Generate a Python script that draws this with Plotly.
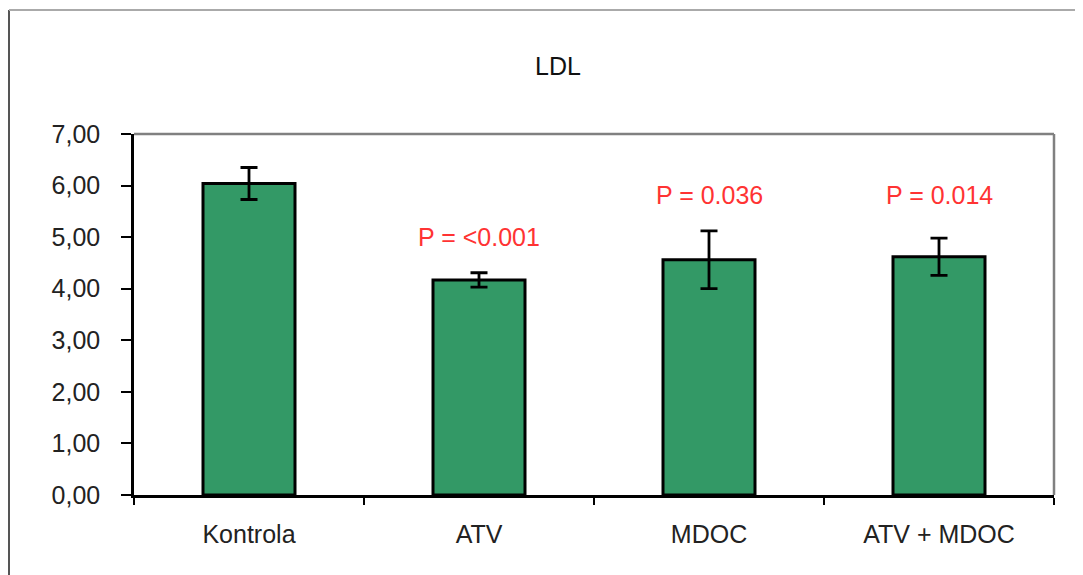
import plotly.graph_objects as go

categories = ["Kontrola", "ATV", "MDOC", "ATV + MDOC"]
ldl_mean = [6.04, 4.17, 4.56, 4.62]
ldl_err = [0.31, 0.14, 0.56, 0.36]
p_labels = ["", "P = <0.001", "P = 0.036", "P = 0.014"]
p_label_y = [None, 5.0, 5.82, 5.81]
y_tick_vals = [0, 1, 2, 3, 4, 5, 6, 7]

OFF = 8  # page body margin
W, H = 1083 - OFF, 575 - OFF
L, R, T, B = 134 - OFF, 29, 134 - OFF, 80
pw, ph = W - L - R, H - T - B

FONT = "Liberation Sans, Arial, sans-serif"
FS = 25

fig = go.Figure()
fig.add_trace(go.Bar(
    x=categories, y=ldl_mean, width=0.4,
    marker=dict(color="#339966", line=dict(color="#000000", width=3)),
    error_y=dict(type="data", array=ldl_err, visible=True,
                 color="#000000", thickness=2.8, width=8.5),
    showlegend=False,
))

for c, txt, yv in zip(categories, p_labels, p_label_y):
    if txt:
        fig.add_annotation(x=c, y=yv, xref="x", yref="y", text=txt,
                           showarrow=False,
                           font=dict(family=FONT, size=FS, color="#ff3333"))

# title
fig.add_annotation(x=(558 - 134) / pw, y=1 + (134 - 50) / ph, xref="paper", yref="paper",
                   text="LDL", showarrow=False,
                   font=dict(family=FONT, size=FS, color="#111111"))

# outer frame lines (page coords converted to paper)
def px(xp):
    return (xp - 134) / pw

def py(yp):
    return (495 - yp) / ph

fig.add_shape(type="line", xref="paper", yref="paper",
              x0=px(9), x1=px(9), y0=py(10), y1=py(580),
              line=dict(color="#555555", width=2))
fig.add_shape(type="line", xref="paper", yref="paper",
              x0=px(9), x1=px(1090), y0=py(10), y1=py(10),
              line=dict(color="#aaaaaa", width=2))
# plot area top/right border (gray)
fig.add_shape(type="line", xref="paper", yref="paper", x0=0, x1=1, y0=1, y1=1,
              line=dict(color="#808080", width=2.5))
fig.add_shape(type="line", xref="paper", yref="paper", x0=1, x1=1, y0=0, y1=1,
              line=dict(color="#808080", width=2.5))

fig.update_layout(
    width=W, height=H,
    margin=dict(l=L, r=R, t=T, b=B),
    paper_bgcolor="white", plot_bgcolor="white",
    separators=",.",
    font=dict(family=FONT, size=FS, color="#222222"),
    bargap=0.6,
    xaxis=dict(
        type="category", showgrid=False, showline=True, linecolor="#000000", linewidth=2.5,
        ticks="outside", tickson="boundaries", ticklen=7, tickcolor="#000000", tickwidth=2,
        ticklabelstandoff=15, tickfont=dict(family=FONT, size=FS, color="#222222"),
        zeroline=False,
    ),
    yaxis=dict(
        range=[0, 7], tickvals=y_tick_vals, tickformat=".2f",
        showgrid=False, showline=True, linecolor="#000000", linewidth=2.5,
        ticks="outside", ticklen=10, tickcolor="#000000", tickwidth=2,
        ticklabelstandoff=16, tickfont=dict(family=FONT, size=FS, color="#222222"),
        zeroline=False,
    ),
)

fig.write_html("out.html")
